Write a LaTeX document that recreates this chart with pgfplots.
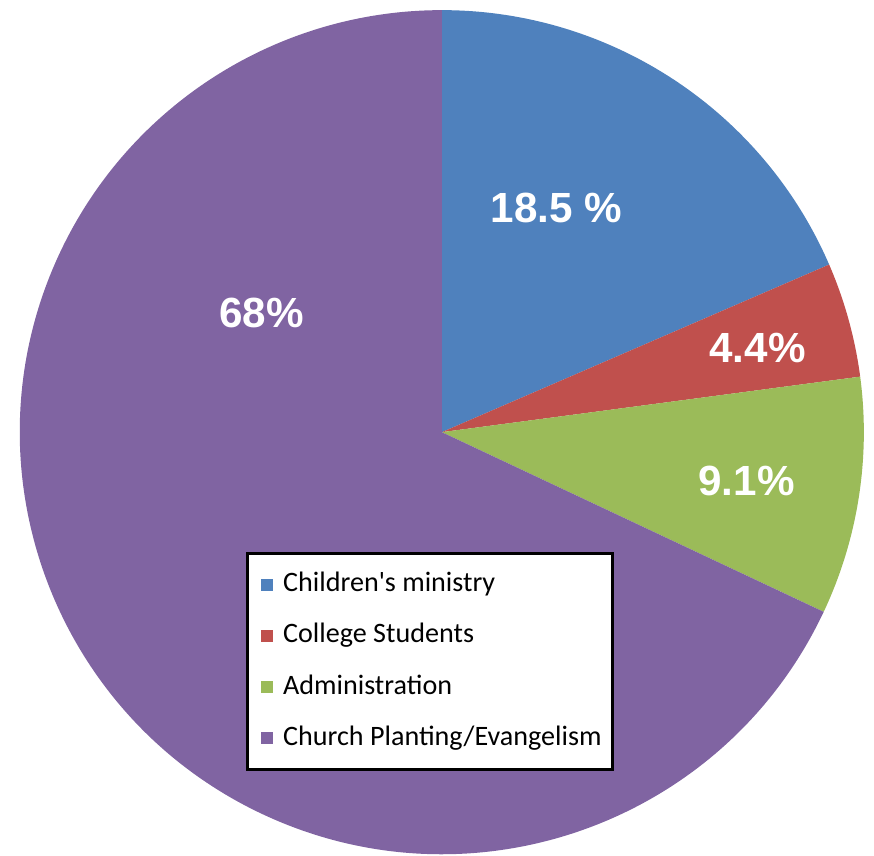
\documentclass[border=0pt]{standalone}
\usepackage{pgfplots}
\usepackage{pgfplotstable}
\usepackage{fontspec}
\pgfplotsset{compat=1.18}
\setmainfont{Carlito}
\newfontfamily\labelfont{Liberation Sans}

\definecolor{cblue}{HTML}{4F81BD}
\definecolor{cred}{HTML}{C0504D}
\definecolor{cgreen}{HTML}{9BBB59}
\definecolor{cpurple}{HTML}{8064A2}

% share of each slice, in percent, clockwise from 12 o'clock
\pgfplotstableread{
value
18.5
4.4
9.1
68.0
}\piedata

% start / end angles of the slices
\def\cum{90}
\pgfplotsforeachungrouped \i in {0,...,3}{%
  \pgfplotstablegetelem{\i}{value}\of\piedata
  \pgfmathsetmacro\endang{\cum-3.6*\pgfplotsretval}%
  \expandafter\xdef\csname sa\i\endcsname{\cum}%
  \expandafter\xdef\csname ea\i\endcsname{\endang}%
  \xdef\cum{\endang}%
}

\newcommand\slice[2]{%
  \fill[#2] (axis cs:0,0) -- (axis cs:{cos(\csname sa#1\endcsname)},{sin(\csname sa#1\endcsname)})
    arc[start angle=\csname sa#1\endcsname, end angle=\csname ea#1\endcsname, radius=1] -- cycle;}

\begin{document}
\begin{tikzpicture}
\begin{axis}[
    x=4.22cm, y=4.22cm,
    xmin=-1.047, xmax=1.024,
    ymin=-1.002, ymax=1.024,
    hide axis,
    clip=false,
    legend style={
        at={(axis cs:-0.464,-0.284)}, anchor=north west,
        draw=black, line width=0.9pt, fill=white,
        font=\fontsize{8}{9.5}\selectfont,
        row sep=3.5pt,
        inner xsep=1pt, inner ysep=3.3pt,
    },
    legend cell align=left,
    legend image code/.code={%
        \path[draw=none, fill=none] (0cm,0cm) -- (0.25cm,0cm);
        \fill[#1, draw=none] (0.1cm,-0.06cm) rectangle (0.22cm,0.06cm);},
]
\slice{0}{cblue}
\slice{1}{cred}
\slice{2}{cgreen}
\slice{3}{cpurple}

\addlegendimage{cblue}
\addlegendentry{Children\textquotesingle s ministry}
\addlegendimage{cred}
\addlegendentry{College Students}
\addlegendimage{cgreen}
\addlegendentry{Administration}
\addlegendimage{cpurple}
\addlegendentry{Church Planting/Evangelism}

\begin{scope}[every node/.style={text=white, font=\labelfont\bfseries\fontsize{12}{14}\selectfont}]
\node at (axis cs:0.272,0.531) {18.5 \%};
\node at (axis cs:0.748,0.199) {4.4\%};
\node at (axis cs:0.722,-0.116) {9.1\%};
\node at (axis cs:-0.427,0.282) {68\%};
\end{scope}
\end{axis}
\pgfresetboundingbox
\path[use as bounding box] (current axis.south west) rectangle (current axis.north east);
\end{tikzpicture}
\end{document}
